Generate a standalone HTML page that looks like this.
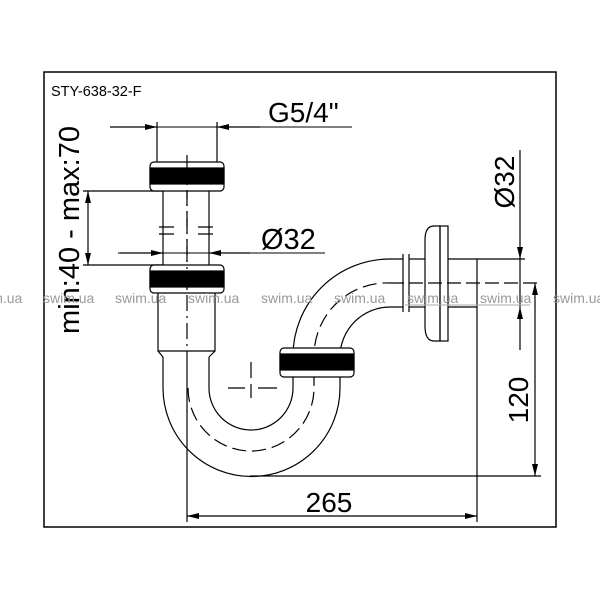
<!DOCTYPE html>
<html><head><meta charset="utf-8"><style>
html,body{margin:0;padding:0;background:#fff}
svg{display:block}
text{font-family:"Liberation Sans",Arial,sans-serif}
</style></head><body>
<svg width="600" height="600" viewBox="0 0 600 600" xmlns="http://www.w3.org/2000/svg">
<defs>
<marker id="a" viewBox="0 0 12 6" refX="12" refY="3" markerWidth="12" markerHeight="6" orient="auto-start-reverse" markerUnits="userSpaceOnUse"><path d="M0,0 L12,3 L0,6 z" fill="#000"/></marker>
</defs>
<rect x="0" y="0" width="600" height="600" fill="#fff"/>
<rect x="44" y="72" width="512" height="455" fill="none" stroke="#000" stroke-width="1.5"/>
<text x="51" y="96" font-size="14.5">STY-638-32-F</text>

<g fill="none" stroke="#000" stroke-width="1.2">
<line x1="163" y1="191" x2="163" y2="265"/><line x1="209" y1="191" x2="209" y2="265"/>
<path d="M158,293 V351 L163,357 M215,293 V351 L209,357"/>
<line x1="158" y1="351" x2="215" y2="351"/>
<path d="M163,357 V388 A88.5,88.5 0 0 0 340,388 V357 A50,50 0 0 1 390,307 H403"/>
<path d="M209,357 V388 A42,42 0 0 0 293,388 V356 A97,97 0 0 1 390,259 H403"/>
<path d="M188,388 A63,63 0 0 0 314,388 V356 A73,73 0 0 1 390,283" stroke-dasharray="14,6"/>
<line x1="403" y1="254" x2="403" y2="312"/><line x1="409" y1="254" x2="409" y2="312"/>
<line x1="409" y1="259" x2="425" y2="259"/><line x1="409" y1="307" x2="425" y2="307"/>
<path d="M440,226 H434 Q425,226 425,240 V326 Q425,341 434,341 H440 Z"/>
<rect x="440" y="226" width="8" height="115"/>
<line x1="448" y1="259" x2="525" y2="259"/>
<line x1="448" y1="307" x2="477" y2="307"/>
<line x1="477" y1="259" x2="477" y2="522"/>
<line x1="390" y1="283" x2="540" y2="283" stroke-dasharray="14,5"/>
<path d="M159,227 H174 M198,227 H213 M159,234 H174 M198,234 H213"/>
<line x1="187" y1="155" x2="187" y2="357" stroke-dasharray="16,5,2,5"/>
<line x1="187" y1="357" x2="187" y2="522"/>
<path d="M251,362 V378 M251,384 V398 M228,388 H245 M258,388 H277"/>
<line x1="110" y1="127" x2="352" y2="127" stroke-width="1"/>
<line x1="110" y1="127" x2="157" y2="127" marker-end="url(#a)"/>
<line x1="260" y1="127" x2="217" y2="127" marker-end="url(#a)"/>
<line x1="157" y1="122" x2="157" y2="163"/><line x1="217" y1="122" x2="217" y2="163"/>
<line x1="118" y1="253" x2="325" y2="253" stroke-width="1"/>
<line x1="120" y1="253" x2="163" y2="253" marker-end="url(#a)"/>
<line x1="250" y1="253" x2="209" y2="253" marker-end="url(#a)"/>
<line x1="83" y1="191" x2="163" y2="191"/><line x1="83" y1="265" x2="163" y2="265"/>
<line x1="88" y1="191" x2="88" y2="265" marker-start="url(#a)" marker-end="url(#a)"/>
<line x1="520" y1="150" x2="520" y2="259" marker-end="url(#a)"/>
<line x1="520" y1="350" x2="520" y2="307" marker-end="url(#a)"/>
<line x1="520" y1="259" x2="520" y2="307"/>
<line x1="535" y1="283" x2="535" y2="476" marker-start="url(#a)" marker-end="url(#a)"/>
<line x1="250" y1="476" x2="541" y2="476"/>
<line x1="187" y1="516" x2="477" y2="516" marker-start="url(#a)" marker-end="url(#a)"/>
</g>
<g stroke="#000" stroke-width="1.2">
<rect x="150" y="162" width="74" height="29" rx="4" fill="#fff"/>
<rect x="150" y="168" width="74" height="16" fill="#000"/>
<rect x="150" y="265" width="74" height="28" rx="4" fill="#fff"/>
<rect x="150" y="271" width="74" height="16" fill="#000"/>
<rect x="280" y="348" width="74" height="29" rx="4" fill="#fff"/>
<rect x="280" y="354" width="74" height="16" fill="#000"/>
</g>
<line x1="187" y1="162" x2="187" y2="293" stroke="#000" stroke-width="1.2" stroke-dasharray="16,5,2,5"/>

<text x="268" y="122" font-size="28">G5/4"</text>
<text x="261" y="249" font-size="29">Ø32</text>
<text x="329" y="512" font-size="28" text-anchor="middle">265</text>
<text transform="translate(79,230) rotate(-90)" font-size="29" text-anchor="middle">min:40 - max:70</text>
<text transform="translate(514,182) rotate(-90)" font-size="28" text-anchor="middle">Ø32</text>
<text transform="translate(528,400) rotate(-90)" font-size="28" text-anchor="middle">120</text>

<g fill="#999" font-size="14">
<text x="-29" y="303">swim.ua</text><text x="43" y="303">swim.ua</text><text x="115" y="303">swim.ua</text>
<text x="188" y="303">swim.ua</text><text x="261" y="303">swim.ua</text><text x="334" y="303">swim.ua</text>
<text x="407" y="303">swim.ua</text><text x="480" y="303">swim.ua</text><text x="553" y="303">swim.ua</text>
</g>
<path d="M405,305 H530" stroke="#aaa" stroke-width="1"/>
</svg>
</body></html>
